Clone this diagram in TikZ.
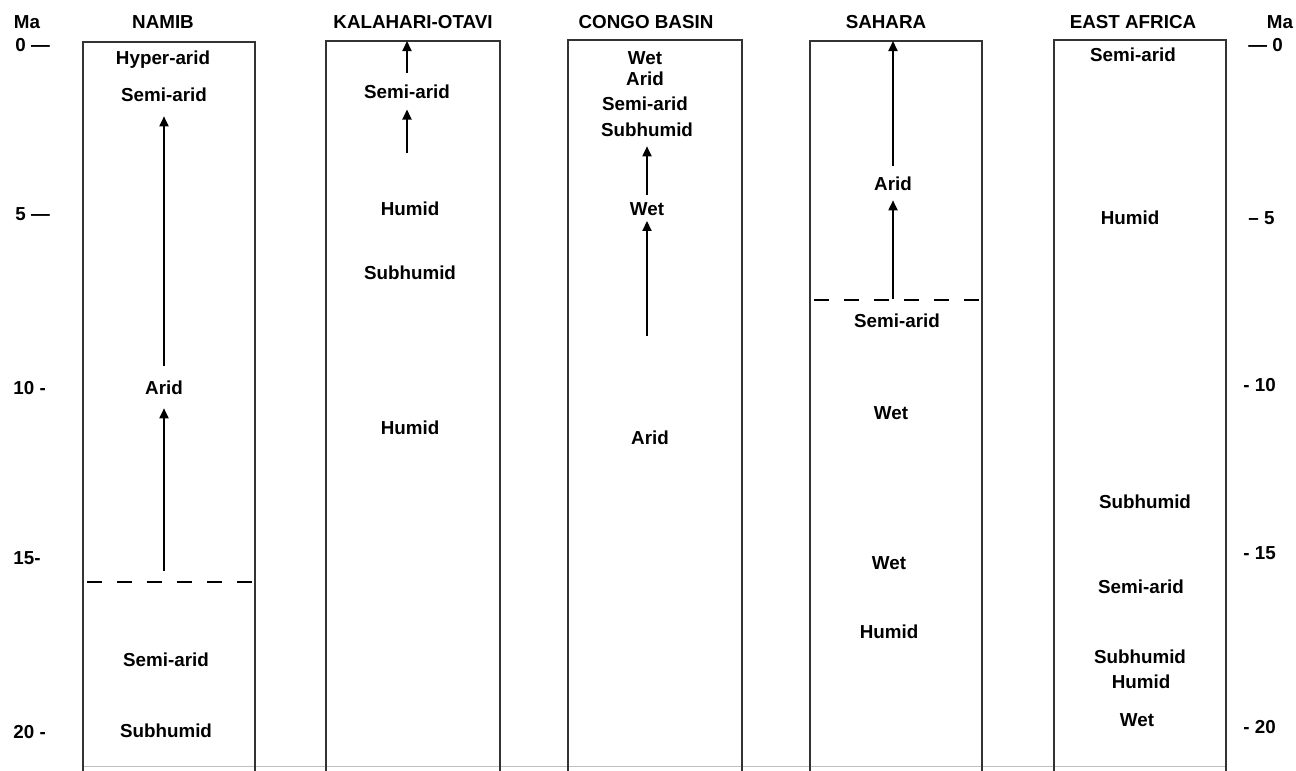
\documentclass[tikz,border=0pt]{standalone}
\usepackage{fontspec}
\setmainfont{Liberation Sans}
\usetikzlibrary{arrows.meta}
\begin{document}
\begin{tikzpicture}[x=0.5pt,y=-0.5pt,
  lab/.style={font=\fontsize{9.4}{11}\selectfont\bfseries, inner sep=1.5pt},
  col/.style={draw=black!80, line width=0.75pt},
  arr/.style={line width=0.9pt, -{Triangle[length=5pt,width=4.5pt]}},
  dash line/.style={line width=0.7pt, dash pattern=on 7.5pt off 7.5pt},
  tick/.style={font=\fontsize{9.4}{11}\selectfont\bfseries, inner sep=0pt}]
\useasboundingbox (0,0) rectangle (1296,771);
\fill[white] (0,0) rectangle (1296,771);
% faint base line
\draw[black!25, line width=0.5pt] (83,766) -- (1226,766);
% columns
\draw[col] (83,771) |- (255,42) -- (255,771);
\draw[col] (326,771) |- (500,41) -- (500,771);
\draw[col] (568,771) |- (742,40) -- (742,771);
\draw[col] (810,771) |- (982,41) -- (982,771);
\draw[col] (1054,771) |- (1226,40) -- (1226,771);
% headers
\node[lab] (hma) at (27,22) {Ma};
\node[lab] (h1) at (163,22) {NAMIB};
\node[lab] (h2) at (413,22) {KALAHARI-OTAVI};
\node[lab] (h3) at (646,22) {CONGO BASIN};
\node[lab] (h4) at (886,22) {SAHARA};
\node[lab] (h5) at (1133,22) {EAST AFRICA};
\node[lab] (hmar) at (1280,22) {Ma};
% left scale
\node[tick,anchor=west] (l0) at (15,45) {0 —};
\node[tick,anchor=west] (l5) at (15,214) {5 —};
\node[tick,anchor=west] (l10) at (13,388) {10 -};
\node[tick,anchor=west] (l15) at (13,558) {15-};
\node[tick,anchor=west] (l20) at (13,732) {20 -};
% right scale
\node[tick,anchor=west] (r0) at (1248,45) {— 0};
\node[tick,anchor=west] (r5) at (1248,218) {– 5};
\node[tick,anchor=west] (r10) at (1243,385) {- 10};
\node[tick,anchor=west] (r15) at (1243,553) {- 15};
\node[tick,anchor=west] (r20) at (1243,727) {- 20};
% NAMIB
\node[lab] (n1) at (163,60) {Hyper-arid};
\node[lab] (n2) at (164,95) {Semi-arid};
\node[lab] (n3) at (164,388) {Arid};
\node[lab] (n4) at (166,660) {Semi-arid};
\node[lab] (n5) at (166,731) {Subhumid};
\coordinate (nd) at (164,571);
\draw[dash line] (87,582) -- (255,582);
\draw[arr, shorten <=6pt, shorten >=5.5pt] (n3.north) -- (n2.south);
\draw[arr, shorten >=5pt] (nd) -- (n3.south);
% KALAHARI
\node[lab] (k1) at (407,92) {Semi-arid};
\node[lab] (k2) at (410,209) {Humid};
\node[lab] (k3) at (410,273) {Subhumid};
\node[lab] (k4) at (410,428) {Humid};
\coordinate (kt) at (407,41);
\coordinate (ks) at (407,153);
\draw[arr, shorten <=4.5pt] (k1.north) -- (kt);
\draw[arr, shorten >=3.6pt] (ks) -- (k1.south);
% CONGO
\node[lab] (c1) at (645,58) {Wet};
\node[lab] (c2) at (645,79) {Arid};
\node[lab] (c3) at (645,104) {Semi-arid};
\node[lab] (c4) at (647,130) {Subhumid};
\node[lab] (c5) at (647,209) {Wet};
\node[lab] (c6) at (650,438) {Arid};
\coordinate (cs) at (647,336);
\draw[arr, shorten <=2pt, shorten >=3pt] (c5.north) -- (c4.south);
\draw[arr, shorten >=1pt] (cs) -- (c5.south);
% SAHARA
\node[lab] (s1) at (893,184) {Arid};
\node[lab] (s2) at (897,321) {Semi-arid};
\node[lab] (s3) at (891,413) {Wet};
\node[lab] (s4) at (889,563) {Wet};
\node[lab] (s5) at (889,632) {Humid};
\coordinate (st) at (893,41);
\coordinate (sd) at (893,299);
\draw[dash line] (814,300) -- (982,300);
\draw[arr, shorten <=3.7pt] (s1.north) -- (st);
\draw[arr, shorten >=3pt] (sd) -- (s1.south);
% EAST AFRICA
\node[lab] (e1) at (1133,55) {Semi-arid};
\node[lab] (e2) at (1130,218) {Humid};
\node[lab] (e3) at (1145,502) {Subhumid};
\node[lab] (e4) at (1141,587) {Semi-arid};
\node[lab] (e5) at (1140,657) {Subhumid};
\node[lab] (e6) at (1141,682) {Humid};
\node[lab] (e7) at (1137,720) {Wet};
\end{tikzpicture}
\end{document}
